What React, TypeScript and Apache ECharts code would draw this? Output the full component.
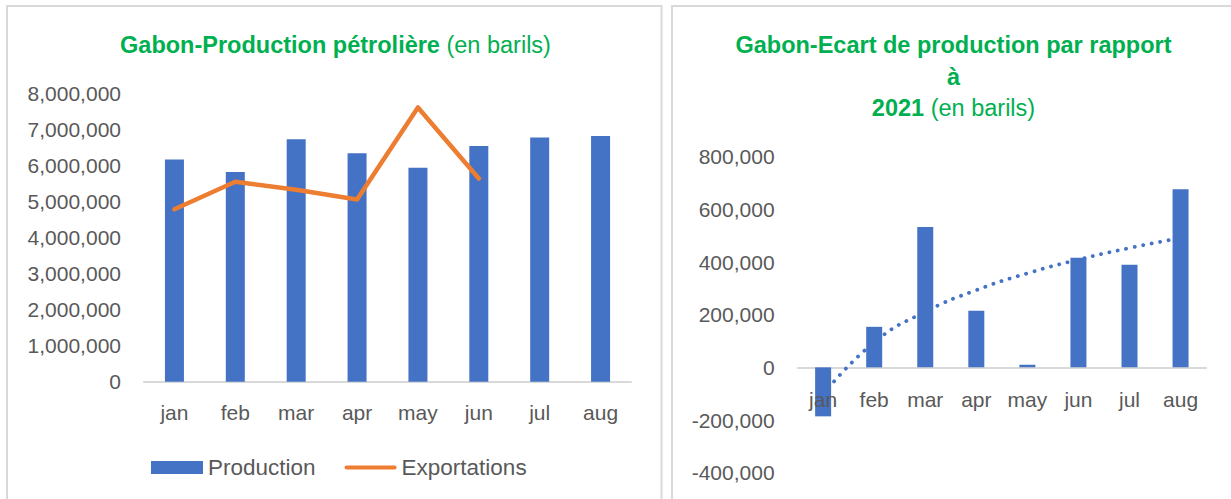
import React, { useEffect, useRef } from "react";
import * as echarts from "echarts";

const months = ["jan", "feb", "mar", "apr", "may", "jun", "jul", "aug"];
const production = [6160000, 5810000, 6720000, 6330000, 5930000, 6530000, 6770000, 6810000];
const exportations: (number | null)[] = [4780000, 5540000, 5320000, 5050000, 7600000, 5630000, null, null];
const ecart = [-186000, 154000, 533000, 215000, 10000, 416000, 390000, 676000];

const leftTicks = { min: 0, max: 8000000, interval: 1000000 };
const rightTicks = { min: -400000, max: 800000, interval: 200000 };

// Logarithmic trendline (as Excel computes it) fitted on the "ecart" values
function logTrend(values: number[]): number[] {
  const xs = values.map((_, i) => Math.log(i + 1));
  const n = values.length;
  const mx = xs.reduce((a, b) => a + b, 0) / n;
  const my = values.reduce((a, b) => a + b, 0) / n;
  let sxy = 0;
  let sxx = 0;
  xs.forEach((x, i) => {
    sxy += (x - mx) * (values[i] - my);
    sxx += (x - mx) * (x - mx);
  });
  const b = sxy / sxx;
  const a = my - b * mx;
  return xs.map((x) => a + b * x);
}

const FONT = "Liberation Sans";
const GRAY = "#595959";
const GREEN = "#00B050";
const BLUE = "#4472C4";
const ORANGE = "#ED7D31";
const BORDER = "#D9D9D9";

const fmt = (v: number) => v.toLocaleString("en-US");

export default function App() {
  const ref = useRef<HTMLDivElement>(null);

  useEffect(() => {
    document.body.style.margin = "0";
    const chart = echarts.init(ref.current!, undefined, { renderer: "svg" });
    const trend = logTrend(ecart);

    const rightTop = 156.7;
    const rightHeight = 316;
    const rightRange = rightTicks.max - rightTicks.min;
    const zeroFromBottom = ((0 - rightTicks.min) / rightRange) * rightHeight;

    const yLabel = {
      color: GRAY,
      fontSize: 21,
      fontFamily: FONT,
      margin: 23,
      formatter: (v: number) => fmt(v),
    };
    const xLabel = {
      color: GRAY,
      fontSize: 21,
      fontFamily: FONT,
      margin: 20,
      interval: 0,
    };
    const axisLine = { show: true, onZero: true, lineStyle: { color: BORDER, width: 2 } };

    chart.setOption({
      animation: false,
      backgroundColor: "#ffffff",
      textStyle: { fontFamily: FONT },
      grid: [
        { left: 144, top: 93, width: 487, height: 288.7, outerBoundsMode: "none", containLabel: false },
        { left: 797.6, top: rightTop, width: 408.5, height: rightHeight, outerBoundsMode: "none", containLabel: false },
      ],
      xAxis: [
        {
          type: "category",
          gridIndex: 0,
          data: months,
          axisLine,
          axisTick: { show: false },
          axisLabel: xLabel,
        },
        {
          type: "category",
          gridIndex: 1,
          data: months,
          axisLine,
          axisTick: { show: false },
          axisLabel: { show: false },
        },
        {
          type: "category",
          gridIndex: 1,
          data: months,
          position: "bottom",
          offset: -zeroFromBottom,
          z: 10,
          axisLine: { show: false, onZero: false },
          axisTick: { show: false },
          axisLabel: { ...xLabel, margin: 22 },
        },
      ],
      yAxis: [
        {
          type: "value",
          gridIndex: 0,
          ...leftTicks,
          axisLine: { show: false },
          axisTick: { show: false },
          splitLine: { show: false },
          axisLabel: yLabel,
        },
        {
          type: "value",
          gridIndex: 1,
          ...rightTicks,
          axisLine: { show: false },
          axisTick: { show: false },
          splitLine: { show: false },
          axisLabel: yLabel,
        },
      ],
      legend: {
        data: [
          { name: "Production", icon: "rect" },
          {
            name: "Exportations",
            icon: "path://M0,0 M54,13 M2,4.5 L52,4.5 A2,2,0,0,1,52,8.5 L2,8.5 A2,2,0,0,1,2,4.5 Z",
            itemStyle: { color: ORANGE },
          },
        ],
        left: 151,
        top: 456,
        padding: 0,
        itemWidth: 52,
        itemHeight: 13,
        itemGap: 29,
        textStyle: { color: GRAY, fontSize: 22.5, fontFamily: FONT },
      },
      series: [
        {
          name: "Production",
          type: "bar",
          xAxisIndex: 0,
          yAxisIndex: 0,
          data: production,
          barWidth: 19,
          itemStyle: { color: BLUE },
        },
        {
          name: "Exportations",
          type: "line",
          xAxisIndex: 0,
          yAxisIndex: 0,
          data: exportations,
          symbol: "none",
          connectNulls: false,
          itemStyle: { color: ORANGE },
          lineStyle: { color: ORANGE, width: 4.5, cap: "round", join: "round" },
        },
        {
          name: "Ecart",
          type: "bar",
          xAxisIndex: 1,
          yAxisIndex: 1,
          data: ecart,
          barWidth: 16,
          itemStyle: { color: BLUE },
        },
        {
          name: "Tendance",
          type: "line",
          xAxisIndex: 1,
          yAxisIndex: 1,
          data: trend,
          symbol: "none",
          smooth: true,
          lineStyle: { color: BLUE, width: 3.8, type: [0.1, 8.5], cap: "round" },
          z: 5,
        },
      ],
      graphic: [
        {
          type: "rect",
          shape: { x: 7, y: 6, width: 654.5, height: 600 },
          style: { fill: "none", stroke: BORDER, lineWidth: 2 },
          silent: true,
        },
        {
          type: "rect",
          shape: { x: 672, y: 6, width: 700, height: 600 },
          style: { fill: "none", stroke: BORDER, lineWidth: 2 },
          silent: true,
        },
        {
          type: "text",
          x: 335.5,
          y: 45,
          style: {
            text: "{b|Gabon-Production pétrolière}{r| (en barils)}",
            align: "center",
            verticalAlign: "middle",
            fill: GREEN,
            fontSize: 23.5,
            fontFamily: FONT,
            rich: {
              b: { fill: GREEN, fontSize: 23.5, fontFamily: FONT, fontWeight: "bold" },
              r: { fill: GREEN, fontSize: 23.5, fontFamily: FONT, fontWeight: "normal" },
            },
          },
        },
        {
          type: "text",
          x: 953.5,
          y: 76.5,
          style: {
            text: "{b|Gabon-Ecart de production par rapport}\n{b|à}\n{b|2021}{r| (en barils)}",
            align: "center",
            verticalAlign: "middle",
            fill: GREEN,
            fontSize: 23.5,
            fontFamily: FONT,
            lineHeight: 31.5,
            rich: {
              b: { fill: GREEN, fontSize: 23.5, fontFamily: FONT, fontWeight: "bold", lineHeight: 31.5 },
              r: { fill: GREEN, fontSize: 23.5, fontFamily: FONT, fontWeight: "normal", lineHeight: 31.5 },
            },
          },
        },
      ],
    });

    return () => chart.dispose();
  }, []);

  return (
    <div
      ref={ref}
      style={{ position: "fixed", left: 0, top: 0, width: 1231, height: 499 }}
    />
  );
}
